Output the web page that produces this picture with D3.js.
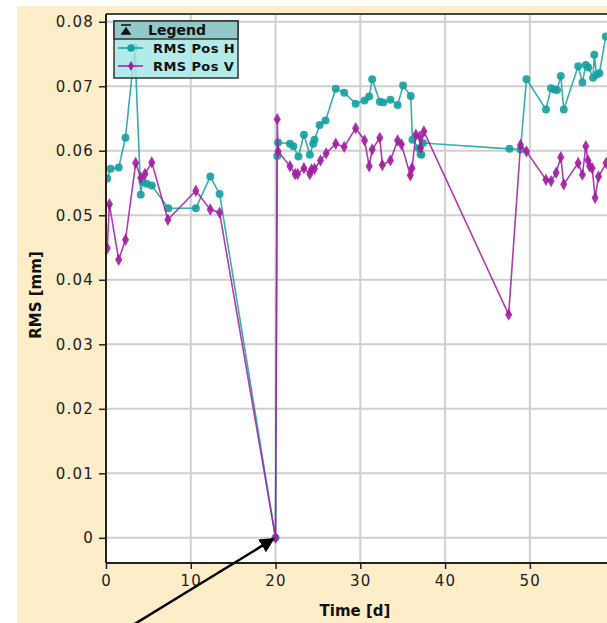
<!DOCTYPE html>
<html>
<head>
<meta charset="utf-8">
<script src="https://cdn.jsdelivr.net/npm/d3@7"></script>
<style>
  body { margin: 0; background: #fff; }
  svg { display: block; font-family: "DejaVu Sans", sans-serif; }
</style>
</head>
<body>
<svg id="chart" width="607" height="623"></svg>
<script>
const width = 607;
const height = 623;

// RMS Pos H
const hDays = [0.15, 0.55, 1.5, 2.3, 3.4, 4.1, 4.3, 4.8, 5.4, 7.35, 10.6, 12.3, 13.4, 20.0,
  20.2, 20.3, 21.7, 22.1, 22.7, 23.35, 24.05, 24.45, 24.6, 25.2, 25.9, 27.1, 28.1, 29.45,
  30.5, 31.05, 31.4, 32.3, 32.7, 33.55, 34.4, 35.05, 35.95, 36.15, 36.9, 37.1, 37.2, 37.4,
  47.6, 48.9, 49.6, 51.9, 52.5, 52.9, 53.2, 53.65, 54.0, 55.7, 56.2, 56.6, 56.9, 57.45,
  57.6, 57.85, 58.2, 58.95];
const hVals = [0.0557, 0.0572, 0.0574, 0.0620, 0.0760, 0.0532, 0.0552, 0.0549, 0.0546,
  0.0511, 0.0511, 0.0560, 0.0533, 0, 0.0592, 0.0613, 0.0611, 0.0607, 0.0591, 0.0625,
  0.0594, 0.0611, 0.0617, 0.0640, 0.0647, 0.0696, 0.0690, 0.0673, 0.0678, 0.0684, 0.0711,
  0.0676, 0.0675, 0.0679, 0.0671, 0.0701, 0.0685, 0.0617, 0.0604, 0.0595, 0.0594, 0.0612,
  0.0603, 0.0602, 0.0711, 0.0664, 0.0697, 0.0695, 0.0694, 0.0716, 0.0664, 0.0731, 0.0706,
  0.0733, 0.0729, 0.0713, 0.0749, 0.0718, 0.0720, 0.0777];

// RMS Pos V
const vDays = [0.15, 0.4, 1.5, 2.3, 3.5, 4.1, 4.6, 5.4, 7.3, 10.6, 12.3, 13.4, 20.0, 20.2,
  20.3, 21.7, 22.3, 22.6, 23.35, 24.05, 24.25, 24.6, 25.3, 25.97, 27.1, 28.1, 29.45, 30.5,
  31.05, 31.4, 32.3, 32.6, 33.55, 34.4, 34.85, 35.9, 36.1, 36.55, 37.0, 37.1, 37.5, 47.5,
  48.9, 49.6, 51.9, 52.5, 53.1, 53.65, 54.0, 55.7, 56.2, 56.6, 56.85, 57.05, 57.35, 57.7,
  58.1, 59.0];
const vVals = [0.0449, 0.0517, 0.0431, 0.0462, 0.0581, 0.0558, 0.0564, 0.0582, 0.0493,
  0.0538, 0.0509, 0.0504, 0, 0.0649, 0.0599, 0.0576, 0.0564, 0.0564, 0.0573, 0.0564,
  0.0571, 0.0572, 0.0585, 0.0596, 0.0611, 0.0606, 0.0635, 0.0616, 0.0576, 0.0602, 0.0620,
  0.0578, 0.0585, 0.0616, 0.0610, 0.0562, 0.0573, 0.0625, 0.0622, 0.0604, 0.0630, 0.0346,
  0.0609, 0.0599, 0.0555, 0.0553, 0.0566, 0.0590, 0.0548, 0.0581, 0.0563, 0.0607, 0.0585,
  0.0576, 0.0573, 0.0527, 0.0560, 0.0581];

const xTicks = [0, 10, 20, 30, 40, 50];
const yTicks = [0, 0.01, 0.02, 0.03, 0.04, 0.05, 0.06, 0.07, 0.08];
const seriesNames = ["RMS Pos H", "RMS Pos V"];

const teal = "#16a0a0";
const purple = "#a01ca0";

const margin = { left: 106, top: 14, bottom: 563, right: 607 };

const svg = d3.select("#chart");

// cream panel
svg.append("rect")
  .attr("x", 17).attr("y", 6)
  .attr("width", width - 17).attr("height", height - 6)
  .attr("fill", "#fdedc9");

svg.append("rect")
  .attr("x", margin.left).attr("y", margin.top)
  .attr("width", margin.right - margin.left).attr("height", margin.bottom - margin.top)
  .attr("fill", "#fff");

const x = d3.scaleLinear().domain([0, 59.1]).range([margin.left, margin.right]);
const y = d3.scaleLinear().domain([-0.0039, 0.0812]).range([margin.bottom, margin.top]);

// grid
const grid = svg.append("g").attr("stroke", "#cfcfcf").attr("stroke-width", 2);
grid.selectAll(".vg").data(xTicks.slice(1)).enter().append("line")
  .attr("x1", (d) => x(d)).attr("x2", (d) => x(d))
  .attr("y1", margin.top).attr("y2", margin.bottom);
grid.selectAll(".hg").data(yTicks).enter().append("line")
  .attr("x1", margin.left).attr("x2", margin.right)
  .attr("y1", (d) => y(d)).attr("y2", (d) => y(d));

svg.append("defs").append("clipPath").attr("id", "clip")
  .append("rect")
  .attr("x", margin.left).attr("y", margin.top)
  .attr("width", margin.right - margin.left).attr("height", margin.bottom - margin.top);

const plot = svg.append("g").attr("clip-path", "url(#clip)");

const hData = hDays.map((d, i) => [d, hVals[i]]);
const vData = vDays.map((d, i) => [d, vVals[i]]);

const line = d3.line().x((d) => x(d[0])).y((d) => y(d[1]));

function drawSeries(data, color, symbol, size) {
  plot.append("path")
    .datum(data)
    .attr("fill", "none")
    .attr("stroke", color)
    .attr("stroke-width", 1.6)
    .attr("stroke-opacity", 0.85)
    .attr("d", line);
  plot.append("g").selectAll("path")
    .data(data).enter().append("path")
    .attr("transform", (d) => `translate(${x(d[0])},${y(d[1])})`)
    .attr("d", d3.symbol().type(symbol).size(size))
    .attr("fill", color)
    .attr("fill-opacity", 0.9);
}

drawSeries(hData, teal, d3.symbolCircle, 50);
drawSeries(vData, purple, d3.symbolDiamond, 44);

// frame
svg.append("line")
  .attr("x1", margin.left).attr("x2", margin.right)
  .attr("y1", margin.top).attr("y2", margin.top)
  .attr("stroke", "#444").attr("stroke-width", 2);

// axes
const yAxis = svg.append("g")
  .attr("transform", `translate(${margin.left},0)`)
  .call(d3.axisLeft(y).tickValues(yTicks).tickSize(7).tickPadding(5)
    .tickFormat((d) => (d === 0 ? "0" : d3.format(".2f")(d))));
const xAxis = svg.append("g")
  .attr("transform", `translate(0,${margin.bottom})`)
  .call(d3.axisBottom(x).tickValues(xTicks).tickSize(6).tickPadding(6));

[yAxis, xAxis].forEach((ax) => {
  ax.select(".domain").attr("stroke", "#222").attr("stroke-width", 2);
  ax.selectAll(".tick line").attr("stroke", "#222").attr("stroke-width", 1.5);
  ax.selectAll("text")
    .attr("font-size", 15)
    .attr("letter-spacing", 1.2)
    .attr("fill", "#222")
    .attr("font-family", "DejaVu Sans, sans-serif");
});
xAxis.select(".domain").attr("d", `M${margin.left},0H${margin.right}`);
yAxis.select(".domain").attr("d", `M0,${margin.top}V${margin.bottom}`);

svg.append("text")
  .attr("transform", "translate(41,295) rotate(-90)")
  .attr("text-anchor", "middle")
  .attr("font-size", 15)
  .attr("font-weight", "bold")
  .attr("fill", "#111")
  .text("RMS [mm]");

svg.append("text")
  .attr("x", 355).attr("y", 616)
  .attr("text-anchor", "middle")
  .attr("font-size", 15)
  .attr("font-weight", "bold")
  .attr("fill", "#111")
  .text("Time [d]");

// legend
const legend = svg.append("g").attr("transform", "translate(114,21)");
legend.append("rect")
  .attr("width", 124).attr("height", 57)
  .attr("fill", "#a6e6e6").attr("fill-opacity", 0.85)
  .attr("stroke", "#333").attr("stroke-width", 1.5);
legend.append("rect")
  .attr("width", 124).attr("height", 18)
  .attr("fill", "#8fc4c4").attr("fill-opacity", 0.9)
  .attr("stroke", "#333").attr("stroke-width", 1.5);
legend.append("path")
  .attr("d", "M7,4H17M8,13L12,7L16,13Z")
  .attr("stroke", "#111").attr("stroke-width", 1.5).attr("fill", "#111");
legend.append("text")
  .attr("x", 34).attr("y", 14)
  .attr("font-size", 14).attr("font-weight", "bold").attr("fill", "#111")
  .text("Legend");

const legendSymbols = [d3.symbolCircle, d3.symbolDiamond];
const legendColors = [teal, purple];
const rows = legend.selectAll(".row").data(seriesNames).enter().append("g")
  .attr("transform", (d, i) => `translate(0,${27 + i * 18})`);
rows.append("line")
  .attr("x1", 4).attr("x2", 29)
  .attr("stroke", (d, i) => legendColors[i]).attr("stroke-width", 1.5);
rows.append("path")
  .attr("transform", "translate(17,0)")
  .attr("d", (d, i) => d3.symbol().type(legendSymbols[i]).size(i ? 28 : 44)())
  .attr("fill", (d, i) => legendColors[i]);
rows.append("text")
  .attr("x", 39).attr("y", 5)
  .attr("font-size", 13).attr("font-weight", "bold").attr("fill", "#111")
  .attr("letter-spacing", 0.4)
  .text((d) => d);

// annotation arrow
svg.append("defs").append("marker")
  .attr("id", "arrow")
  .attr("viewBox", "0 0 10 10")
  .attr("refX", 9).attr("refY", 5)
  .attr("markerWidth", 6).attr("markerHeight", 6)
  .attr("orient", "auto")
  .append("path").attr("d", "M0,0L10,5L0,10Z").attr("fill", "#000");

svg.append("line")
  .attr("x1", 133).attr("y1", 625)
  .attr("x2", x(20) - 2).attr("y2", y(0) + 1)
  .attr("stroke", "#000").attr("stroke-width", 2.5)
  .attr("marker-end", "url(#arrow)");
</script>
</body>
</html>
